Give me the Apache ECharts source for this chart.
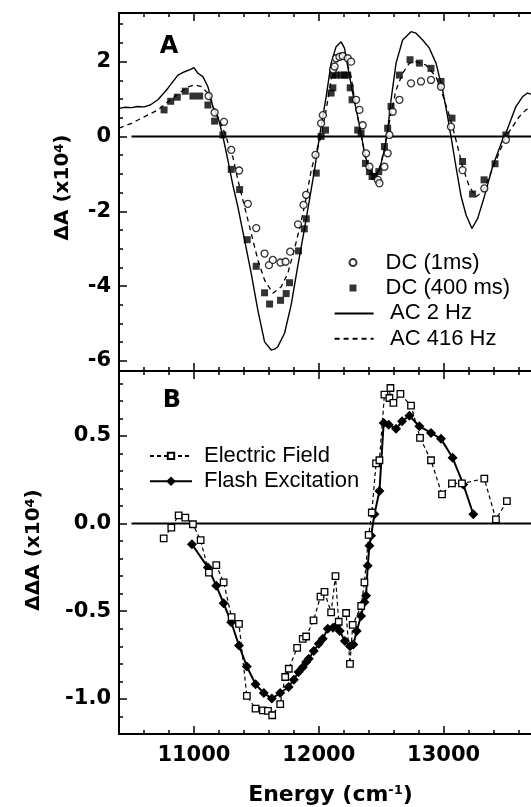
<!DOCTYPE html>
<html><head><meta charset="utf-8">
<script src="https://cdn.jsdelivr.net/npm/echarts@6/dist/echarts.min.js"></script>
<style>html,body{margin:0;padding:0;background:#fff}#c{width:531px;height:807px}</style>
</head><body><div id="c"></div>
<script>
// ---------- Panel A data: [energy cm-1, dA x10^4] ----------
const ac2Hz = [[10400,0.75],[10450,0.78],[10500,0.77],[10550,0.80],[10600,0.79],[10650,0.84],[10712,0.98],[10792,1.29],[10872,1.64],[10926,1.73],[10979,1.80],[11000,1.84],[11032,1.69],[11072,1.60],[11112,1.33],[11152,0.80],[11192,0.53],[11232,0.00],[11272,-0.63],[11312,-1.30],[11352,-1.88],[11406,-2.77],[11459,-3.66],[11512,-4.64],[11566,-5.49],[11619,-5.71],[11650,-5.68],[11672,-5.62],[11726,-5.26],[11779,-4.5],[11830,-3.5],[11884,-2.5],[11925,-1.7],[11966,-0.9],[12006,0.0],[12059,1.06],[12099,1.96],[12139,2.40],[12179,2.53],[12206,2.36],[12232,1.87],[12272,1.16],[12312,0.53],[12339,0.08],[12366,-0.45],[12406,-0.90],[12446,-1.03],[12486,-0.90],[12526,-0.36],[12552,0.17],[12579,0.98],[12619,1.96],[12672,2.58],[12739,2.80],[12779,2.76],[12832,2.58],[12886,2.36],[12939,1.96],[12992,1.24],[13032,0.53],[13059,0.0],[13099,-0.81],[13140,-1.6],[13180,-2.1],[13227,-2.46],[13273,-2.19],[13326,-1.61],[13392,-0.81],[13472,-0.09],[13499,0.09],[13579,0.80],[13632,1.06],[13672,1.16],[13700,1.13]];
const ac416Hz = [[10400,0.22],[10500,0.35],[10606,0.53],[10712,0.71],[10800,0.95],[10900,1.2],[10960,1.33],[11006,1.38],[11059,1.33],[11112,1.16],[11166,0.66],[11219,0.31],[11259,0],[11286,-0.36],[11312,-0.55],[11352,-1.16],[11406,-1.88],[11459,-2.59],[11512,-3.30],[11566,-3.84],[11632,-4.19],[11699,-4.02],[11752,-3.66],[11806,-3.0],[11850,-2.4],[11890,-1.8],[11940,-0.9],[11980,-0.4],[12019,0],[12059,0.71],[12099,1.51],[12139,1.96],[12179,2.14],[12219,2.05],[12259,1.60],[12299,0.71],[12339,0.05],[12379,-0.63],[12419,-0.98],[12459,-1.07],[12499,-0.72],[12539,-0.09],[12579,0.62],[12619,1.24],[12672,1.69],[12726,1.96],[12779,2.00],[12859,1.91],[12939,1.60],[13006,0.98],[13072,0.26],[13112,-0.27],[13152,-0.81],[13206,-1.34],[13259,-1.61],[13312,-1.48],[13366,-1.07],[13432,-0.54],[13499,0],[13552,0.26],[13606,0.53],[13659,0.71],[13700,0.78]];
const dc1ms = [[11118,1.08],[11166,0.64],[11241,0.39],[11299,-0.36],[11362,-0.91],[11432,-1.80],[11499,-2.45],[11566,-3.13],[11601,-3.44],[11632,-3.30],[11694,-3.37],[11734,-3.35],[11771,-3.08],[11834,-2.35],[11878,-1.83],[11899,-1.56],[11974,-0.49],[12019,0.35],[12033,0.57],[12115,1.79],[12127,1.87],[12139,2.09],[12166,2.13],[12192,2.15],[12232,2.09],[12259,2.00],[12299,0.98],[12326,0.71],[12352,0.3],[12379,-0.45],[12406,-0.81],[12473,-1.16],[12486,-1.25],[12526,-0.81],[12552,-0.45],[12566,0.04],[12592,0.66],[12646,0.98],[12739,1.42],[12819,1.47],[12899,1.51],[12979,1.33],[13059,0.26],[13152,-0.90],[13326,-1.39],[13499,-0.09]];
const dc400ms = [[10761,0.71],[10814,0.94],[10867,1.05],[10931,1.21],[10992,1.08],[11046,1.08],[11112,0.84],[11166,0.41],[11232,0.04],[11299,-0.88],[11366,-1.42],[11427,-2.76],[11499,-3.47],[11566,-4.18],[11606,-4.48],[11694,-4.38],[11739,-4.2],[11766,-3.91],[11838,-3.06],[11884,-2.47],[11900,-2.2],[11980,-0.98],[12019,0],[12054,0.17],[12099,1.16],[12113,1.30],[12113,1.64],[12139,1.64],[12179,1.64],[12206,1.64],[12232,1.64],[12252,1.30],[12267,0.98],[12312,0.17],[12339,0.09],[12374,-0.72],[12406,-0.94],[12427,-1.07],[12446,-1.07],[12481,-0.94],[12526,-0.27],[12552,0.22],[12579,0.80],[12646,1.64],[12731,2.05],[12806,1.96],[12899,1.82],[12979,1.47],[13067,0.49],[13152,-0.67],[13232,-1.54],[13324,-1.16],[13412,-0.73],[13499,0.04]];
// ---------- Panel B data: [energy cm-1, ddA x10^4] ----------
const electricField = [[10758,-0.085],[10819,-0.023],[10878,0.047],[10931,0.034],[10992,-0.004],[11054,-0.095],[11120,-0.28],[11179,-0.237],[11238,-0.335],[11302,-0.534],[11361,-0.572],[11424,-0.983],[11494,-1.055],[11553,-1.065],[11593,-1.068],[11627,-1.093],[11691,-1.03],[11731,-0.875],[11760,-0.828],[11827,-0.709],[11872,-0.657],[11899,-0.644],[11958,-0.552],[12014,-0.417],[12046,-0.39],[12099,-0.506],[12134,-0.30],[12160,-0.56],[12219,-0.51],[12250,-0.80],[12272,-0.578],[12340,-0.47],[12366,-0.335],[12400,-0.065],[12425,0.063],[12459,0.343],[12486,0.361],[12526,0.735],[12566,0.716],[12574,0.773],[12598,0.688],[12654,0.739],[12739,0.672],[12811,0.489],[12899,0.361],[12987,0.166],[13067,0.229],[13147,0.229],[13326,0.256],[13419,0.024],[13507,0.128]];
const flashExcitation = [[10984,-0.118],[11112,-0.25],[11179,-0.354],[11238,-0.455],[11299,-0.5625],[11361,-0.695],[11424,-0.815],[11494,-0.917],[11560,-0.966],[11624,-0.998],[11691,-0.966],[11758,-0.932],[11800,-0.89],[11838,-0.847],[11872,-0.82],[11900,-0.79],[11920,-0.771],[11960,-0.727],[12000,-0.686],[12032,-0.657],[12072,-0.60],[12114,-0.594],[12141,-0.584],[12168,-0.613],[12209,-0.67],[12250,-0.70],[12277,-0.69],[12304,-0.613],[12339,-0.527],[12366,-0.449],[12379,-0.411],[12392,-0.241],[12406,-0.127],[12419,-0.07],[12446,0.053],[12486,0.185],[12520,0.574],[12560,0.564],[12619,0.54],[12667,0.583],[12726,0.615],[12806,0.555],[12899,0.517],[12979,0.483],[13072,0.375],[13158,0.223],[13238,0.053]];
const zeroLine = [[10500,0],[13700,0]];
// ---------- axes / ticks ----------
const energyRange = [10400, 13700];
const energyTicks = [11000, 12000, 13000];
const energyTickLabels = ['11000', '12000', '13000'];
const energyMinorTicks = [10400,10600,10800,11000,11200,11400,11600,11800,12000,12200,12400,12600,12800,13000,13200,13400,13600];
const aRange = [-6.27, 3.3];
const aTicks = [-6, -4, -2, 0, 2];
const aTickLabels = ['-6', '-4', '-2', '0', '2'];
const aMinorTicks = [-6,-5.5,-5,-4.5,-4,-3.5,-3,-2.5,-2,-1.5,-1,-0.5,0,0.5,1,1.5,2,2.5,3];
const bRange = [-1.2, 0.87];
const bTicks = [-1.0, -0.5, 0.0, 0.5];
const bTickLabels = ['-1.0', '-0.5', '0.0', '0.5'];
const bMinorTicks = [-1.2,-1.1,-1.0,-0.9,-0.8,-0.7,-0.6,-0.5,-0.4,-0.3,-0.2,-0.1,0,0.1,0.2,0.3,0.4,0.5,0.6,0.7,0.8];

const K = '#000';
const tickFont = {fontFamily: 'DejaVu Sans', fontWeight: 'bold', fontSize: 21, color: K};
const supStyle = {fontFamily: 'DejaVu Sans', fontWeight: 'bold', fontSize: 13, verticalAlign: 'top', color: K};

function xAx(grid, pos, ticks, len, labels, extra) {
  return Object.assign({
    type: 'value', gridIndex: grid, position: pos, min: energyRange[0], max: energyRange[1],
    axisLine: {show: true, onZero: false, lineStyle: {color: K, width: 2}},
    axisTick: {show: true, inside: true, length: len, customValues: ticks, lineStyle: {color: K, width: 1.5}},
    axisLabel: labels ? Object.assign({show: true, customValues: ticks, margin: 11,
      formatter: v => labels[ticks.indexOf(v)]}, tickFont) : {show: false},
    splitLine: {show: false}
  }, extra || {});
}
function yAx(grid, range, ticks, len, labels, extra) {
  return Object.assign({
    type: 'value', gridIndex: grid, position: 'left', min: range[0], max: range[1],
    axisLine: {show: true, onZero: false, lineStyle: {color: K, width: 2}},
    axisTick: {show: true, inside: true, length: len, customValues: ticks, lineStyle: {color: K, width: 1.5}},
    axisLabel: labels ? Object.assign({show: true, customValues: ticks, margin: 8,
      formatter: v => { const i = ticks.findIndex(t => Math.abs(t - v) < 1e-6); return i >= 0 ? labels[i] : ''; }}, tickFont) : {show: false},
    splitLine: {show: false}
  }, extra || {});
}

const chart = echarts.init(document.getElementById('c'), null, {renderer: 'canvas'});
const legendText = {fontFamily: 'Liberation Sans', fontSize: 22, lineHeight: 22, color: K};

chart.setOption({
  animation: false,
  backgroundColor: '#fff',
  grid: [
    {left: 119, right: 0, top: 13, height: 358},
    {left: 119, right: 0, top: 371, height: 363}
  ],
  xAxis: [
    xAx(0, 'bottom', energyTicks, 8, null),
    xAx(0, 'bottom', energyMinorTicks, 4, null),
    xAx(0, 'top', energyTicks, 8, null),
    xAx(0, 'top', energyMinorTicks, 4, null),
    xAx(1, 'bottom', energyTicks, 8, energyTickLabels, {
      name: 'Energy (cm{sup|-1})', nameLocation: 'middle', nameGap: 50,
      nameTextStyle: {fontFamily: 'DejaVu Sans', fontWeight: 'bold', fontSize: 22, color: K, padding: [0, 0, 0, 11], rich: {sup: supStyle}}
    }),
    xAx(1, 'bottom', energyMinorTicks, 4, null),
    xAx(1, 'top', energyTicks, 8, null),
    xAx(1, 'top', energyMinorTicks, 4, null)
  ],
  yAxis: [
    yAx(0, aRange, aTicks, 8, aTickLabels, {
      name: 'ΔA (x10{sup|4})', nameLocation: 'middle', nameRotate: 90, nameGap: 46,
      nameTextStyle: {fontFamily: 'DejaVu Sans', fontWeight: 'bold', fontSize: 20, color: K, padding: [0, 0, 0, 9], rich: {sup: supStyle}}
    }),
    yAx(0, aRange, aMinorTicks, 4, null),
    yAx(1, bRange, bTicks, 8, bTickLabels, {
      name: 'ΔΔA (x10{sup|4})', nameLocation: 'middle', nameRotate: 90, nameGap: 75,
      nameTextStyle: {fontFamily: 'DejaVu Sans', fontWeight: 'bold', fontSize: 20, color: K, padding: [0, 0, 0, 5], rich: {sup: supStyle}}
    }),
    yAx(1, bRange, bMinorTicks, 4, null)
  ],
  legend: [
    {data: ['DC (1ms)', 'DC (400 ms)'], orient: 'vertical', left: 348.5, top: 251.6, padding: 0,
     itemWidth: 7, itemHeight: 7, itemGap: 3.4, selectedMode: false,
     textStyle: Object.assign({padding: [0, 0, 0, 24]}, legendText)},
    {data: ['AC 2 Hz', 'AC 416 Hz'], orient: 'vertical', left: 333.6, top: 302.4, padding: 0,
     itemWidth: 39, itemHeight: 1, itemGap: 3.4, selectedMode: false,
     textStyle: Object.assign({padding: [0, 0, 0, 11.4]}, legendText)},
    {data: ['Electric Field'], orient: 'vertical', left: 149, top: 444.9, padding: 0,
     itemWidth: 42, itemHeight: 8, selectedMode: false,
     textStyle: Object.assign({padding: [0, 0, 0, 7]}, legendText)},
    {data: ['Flash Excitation'], orient: 'vertical', left: 149, top: 470.3, padding: 0,
     itemWidth: 42, itemHeight: 12, selectedMode: false,
     textStyle: Object.assign({padding: [0, 0, 0, 7]}, legendText)}
  ],
  graphic: [
    {type: 'text', x: 169, y: 47, style: {text: 'A', align: 'center', verticalAlign: 'middle', font: 'bold 24px "DejaVu Sans"', fill: K}},
    {type: 'text', x: 172, y: 401, style: {text: 'B', align: 'center', verticalAlign: 'middle', font: 'bold 24px "DejaVu Sans"', fill: K}}
  ],
  series: [
    {name: 'zeroA', type: 'line', xAxisIndex: 0, yAxisIndex: 0, data: zeroLine, symbol: 'none', silent: true,
     lineStyle: {color: K, width: 2}, z: 1},
    {name: 'AC 2 Hz', type: 'line', xAxisIndex: 0, yAxisIndex: 0, data: ac2Hz, symbol: 'none',
     lineStyle: {color: K, width: 1.4}, itemStyle: {color: K}, z: 2},
    {name: 'AC 416 Hz', type: 'line', xAxisIndex: 0, yAxisIndex: 0, data: ac416Hz, symbol: 'none',
     lineStyle: {color: K, width: 1.3, type: [5, 4]}, itemStyle: {color: K}, z: 2},
    {name: 'DC (1ms)', type: 'scatter', xAxisIndex: 0, yAxisIndex: 0, data: dc1ms, symbol: 'circle', symbolSize: 7,
     itemStyle: {color: '#fff', borderColor: K, borderWidth: 1.3}, z: 4},
    {name: 'DC (400 ms)', type: 'scatter', xAxisIndex: 0, yAxisIndex: 0, data: dc400ms, symbol: 'rect', symbolSize: 7,
     itemStyle: {color: K}, z: 3},
    {name: 'zeroB', type: 'line', xAxisIndex: 4, yAxisIndex: 2, data: zeroLine, symbol: 'none', silent: true,
     lineStyle: {color: K, width: 2}, z: 1},
    {name: 'Electric Field', type: 'line', xAxisIndex: 4, yAxisIndex: 2, data: electricField,
     symbol: 'rect', symbolSize: 6.5, showAllSymbol: true,
     lineStyle: {color: K, width: 1.2, type: [4, 3]}, itemStyle: {color: '#fff', borderColor: K, borderWidth: 1.3}, z: 4},
    {name: 'Flash Excitation', type: 'line', xAxisIndex: 4, yAxisIndex: 2, data: flashExcitation,
     symbol: 'diamond', symbolSize: 10, showAllSymbol: true,
     lineStyle: {color: K, width: 2}, itemStyle: {color: K}, z: 3}
  ]
});
</script></body></html>
